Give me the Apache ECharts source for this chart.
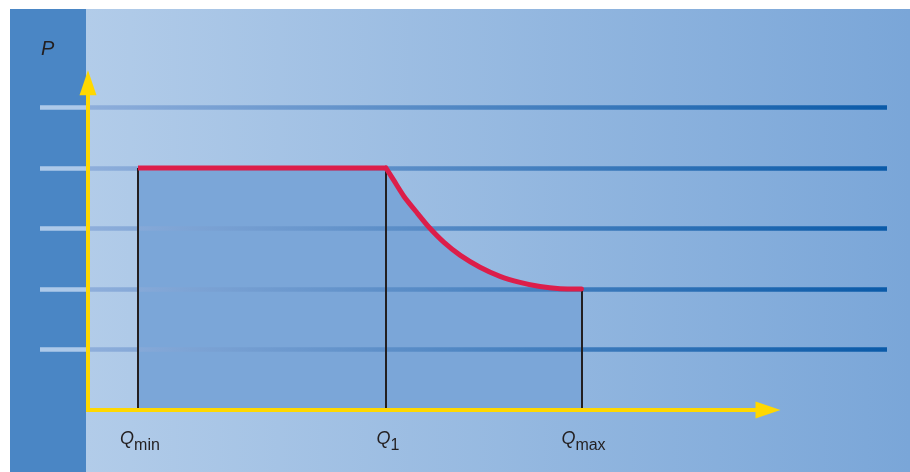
<!DOCTYPE html>
<html><head><meta charset="utf-8">
<script src="https://cdn.jsdelivr.net/npm/echarts@6/dist/echarts.min.js"></script>
<style>html,body{margin:0;padding:0;background:#fff}#c{width:910px;height:472px}</style>
</head><body><div id="c"></div>
<script>
// ---- data ----
const qNames = ['min', '1', 'max'];          // subscripts of the Q tick labels
const qValues = [1.0, 5.96, 9.87];           // Qmin, Q1, Qmax positions
const qTopP = [4, 4, 2];                     // P reached at each Q (drop lines)
const flatQ = [1.0, 5.96];
const flatP = [4, 4];
const curveQ = [5.96, 6.12, 6.32, 6.58, 6.82, 7.12, 7.44, 7.84, 8.24, 8.64, 9.04, 9.44, 9.87];
const curveP = [4.0, 3.79, 3.53, 3.26, 3.02, 2.77, 2.56, 2.36, 2.21, 2.11, 2.04, 2.005, 2.0];
const axisEndQ = 13.6;                        // arrow end of Q axis
const axisEndP = 5.41;                        // arrow end of P axis

const zip = (a, b) => a.map((v, i) => [v, b[i]]);
const flatData = zip(flatQ, flatP);
const curveData = zip(curveQ, curveP);
const areaData = flatData.concat(curveData.slice(1));

const FONT = 'Liberation Sans';
const TXT = '#231f20';
const chart = echarts.init(document.getElementById('c'), null, {renderer: 'canvas'});

const gridGrad = new echarts.graphic.LinearGradient(40, 0, 887, 0, [
  {offset: 0, color: '#adc9e9'},
  {offset: 0.0543, color: '#adc9e9'},
  {offset: 0.0567, color: '#8eaedb'},
  {offset: 1, color: '#0a5aa8'}
], true);

chart.setOption({
  animation: false,
  backgroundColor: '#ffffff',
  graphic: [
    {type: 'rect', z: -100, silent: true, shape: {x: 86, y: 9, width: 824, height: 463},
     style: {fill: new echarts.graphic.LinearGradient(0, 0, 1, 0, [
       {offset: 0, color: '#b2cce9'}, {offset: 1, color: '#7aa6d8'}])}},
    {type: 'rect', z: -100, silent: true, shape: {x: 10, y: 9, width: 76, height: 463},
     style: {fill: '#4a86c5'}}
  ],
  title: {text: 'P', left: 41, top: 39, padding: 0,
    textStyle: {fontFamily: FONT, fontStyle: 'italic', fontWeight: 'normal', fontSize: 20, color: TXT}},
  grid: {left: 40, right: 23, top: 71.2, bottom: 62, containLabel: false},
  xAxis: {
    type: 'value', min: -0.96, max: 15.98, z: 3,
    axisLine: {show: false}, axisTick: {show: false}, splitLine: {show: false},
    axisLabel: {
      customValues: qValues, margin: 20,
      formatter: function (v) {
        const i = qValues.findIndex(q => Math.abs(q - v) < 1e-6);
        return i < 0 ? '' : '{q|Q}{s|' + qNames[i] + '}';
      },
      rich: {
        q: {fontFamily: FONT, fontSize: 18, fontStyle: 'italic', color: TXT, lineHeight: 20,
            verticalAlign: 'top', padding: [0, 0, 0, 4]},
        s: {fontFamily: FONT, fontSize: 16, color: TXT, lineHeight: 16, padding: [8, 0, 0, 0], verticalAlign: 'top'}
      }
    }
  },
  yAxis: {
    type: 'value', min: 0, max: 5.6, interval: 1, z: 3,
    axisLine: {show: false}, axisTick: {show: false}, axisLabel: {show: false},
    splitLine: {show: true, showMinLine: false, showMaxLine: false,
      lineStyle: {color: gridGrad, width: 4.5, type: 'solid'}}
  },
  series: [
    {type: 'line', name: 'area', z: 2, silent: true, data: areaData, symbol: 'none',
     lineStyle: {width: 0}, areaStyle: {color: '#7ba6d8', opacity: 1}},
    {type: 'line', name: 'drops', z: 4, silent: true, data: [], symbol: 'none',
     markLine: {silent: true, symbol: 'none', label: {show: false}, animation: false,
       lineStyle: {color: TXT, width: 2, type: 'solid'},
       emphasis: {disabled: true},
       data: qValues.map((q, i) => [{coord: [q, 0]}, {coord: [q, qTopP[i]]}])}},
    {type: 'line', name: 'flat', z: 5, silent: true, data: flatData, symbol: 'none',
     lineStyle: {color: '#dc1e4a', width: 5, cap: 'butt'}},
    {type: 'line', name: 'curve', z: 5, silent: true, data: curveData, symbol: 'none',
     smooth: 0.2,
     lineStyle: {color: '#dc1e4a', width: 5, cap: 'round', join: 'round'}},
    {type: 'line', name: 'axes', z: 6, silent: true, data: [], symbol: 'none',
     markLine: {silent: true, symbol: ['none', 'triangle'], symbolSize: [17, 25], label: {show: false},
       animation: false, emphasis: {disabled: true},
       lineStyle: {color: '#ffd800', width: 4, type: 'solid', cap: 'square'},
       itemStyle: {color: '#ffd800'},
       data: [
         [{coord: [0, 0]}, {coord: [0, axisEndP]}],
         [{coord: [0, 0]}, {coord: [axisEndQ, 0]}]
       ]}}
  ]
});
</script></body></html>
